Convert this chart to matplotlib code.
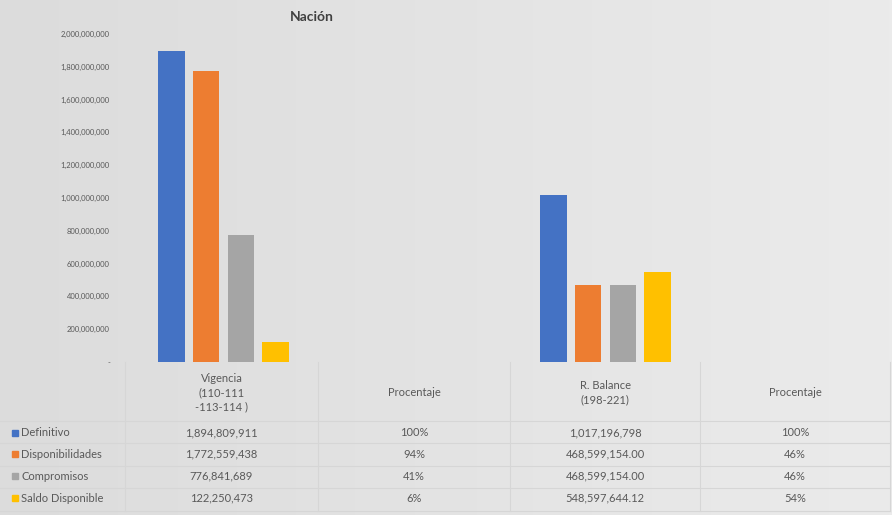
import numpy as np
import matplotlib.pyplot as plt
from matplotlib.patches import Rectangle

categories = ["Vigencia\n(110-111\n-113-114 )", "Procentaje", "R. Balance\n(198-221)", "Procentaje"]
series = ["Definitivo", "Disponibilidades", "Compromisos", "Saldo Disponible"]
definitivo = [1894809911, 1.00, 1017196798, 1.00]
disponibilidades = [1772559438, 0.94, 468599154.00, 0.46]
compromisos = [776841689, 0.41, 468599154.00, 0.46]
saldo = [122250473, 0.06, 548597644.12, 0.54]
values = [definitivo, disponibilidades, compromisos, saldo]
colors = ["#4472c4", "#ed7d31", "#a5a5a5", "#ffc000"]
yticks = np.arange(0, 2000000001, 200000000)

plt.rcParams['font.family'] = ['Lato', 'DejaVu Sans']
txt = "#595959"
W, H = 892, 515

fig = plt.figure(figsize=(8.92, 5.15), dpi=100)

# background gradient
bg = fig.add_axes([0, 0, 1, 1], zorder=-10)
grad = np.linspace(0, 1, 256).reshape(1, -1)
bg.imshow(grad, aspect='auto', cmap=plt.matplotlib.colors.LinearSegmentedColormap.from_list('g', ['#dcdcdc', '#ebebeb']), extent=[0, 1, 0, 1])
bg.set_xlim(0, 1)
bg.set_ylim(0, 1)
bg.axis('off')

def fx(px):
    return px / W

def fy(py):
    return 1 - py / H

ax = fig.add_axes([fx(128), fy(362), fx(892) - fx(128), fy(34) - fy(362)])
ax.patch.set_alpha(0)
x = np.arange(len(categories))
bw = 0.141
step = 0.183
for i, (vals, c) in enumerate(zip(values, colors)):
    ax.bar(x + (i - 1.5) * step, vals, width=bw, color=c, label=series[i])
ax.set_xlim(-0.5, 3.5)
ax.set_ylim(0, 2000000000)
ax.set_yticks(yticks)
ax.set_yticklabels(["-"] + ["{:,.0f}".format(v) for v in yticks[1:]], fontsize=5.5, color=txt)
ax.tick_params(axis='y', length=0, pad=13)
ax.set_xticks([])
for s in ax.spines.values():
    s.set_visible(False)

fig.text(fx(312), fy(17), "Nación", fontsize=10, fontweight='bold', color="#404040", ha='center', va='center')

# data table
col_edges = [125, 318, 510, 700, 890]
row_lines = [421, 443, 466, 488, 511]
row_y = [433, 454, 476, 498]
lc = "#d6d6d6"
for xe in col_edges:
    fig.add_artist(plt.Line2D([fx(xe), fx(xe)], [fy(362), fy(511)], color=lc, lw=0.8))
for yl in row_lines:
    fig.add_artist(plt.Line2D([fx(0), fx(890)], [fy(yl), fy(yl)], color=lc, lw=0.8))

for j, cat in enumerate(categories):
    cx = (col_edges[j] + col_edges[j + 1]) / 2
    fig.text(fx(cx), fy(393), cat, fontsize=8, color=txt, ha='center', va='center', linespacing=1.35)

def fmt(r, c, v):
    if c in (1, 3):
        return "{:.0%}".format(v)
    if c == 2 and r > 0:
        return "{:,.2f}".format(v)
    return "{:,.0f}".format(v)

for r, (name, vals, c) in enumerate(zip(series, values, colors)):
    fig.add_artist(Rectangle((fx(12), fy(row_y[r]) - 0.006), 0.0065, 0.012, color=c, transform=fig.transFigure))
    fig.text(fx(21), fy(row_y[r]), name, fontsize=8, color=txt, ha='left', va='center')
    for j, v in enumerate(vals):
        cx = (col_edges[j] + col_edges[j + 1]) / 2
        fig.text(fx(cx), fy(row_y[r]), fmt(r, j, v), fontsize=8, color=txt, ha='center', va='center')

fig.savefig("out.png", dpi=100)
